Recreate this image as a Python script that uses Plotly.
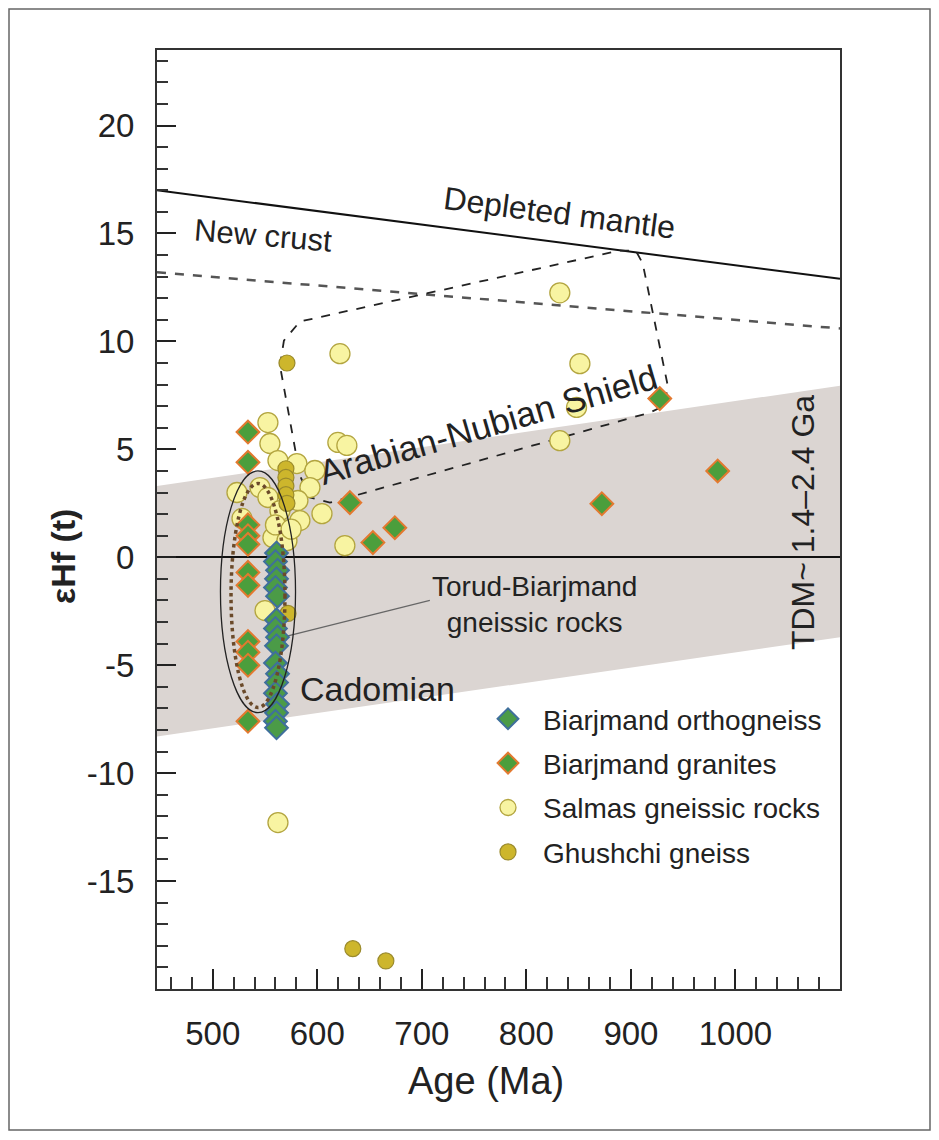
import plotly.graph_objects as go

# ---------------- data ----------------
age_range = [446.7, 1100.0]
ehf_range = [-20.0, 23.5]
x_tickvals = [500, 600, 700, 800, 900, 1000]
y_tickvals = [-15, -10, -5, 0, 5, 10, 15, 20]
y_ticktext = ["-15", "-10", "-5", "0", "5", "10", "15", "20"]

ortho_age = [561, 560, 562, 561, 560, 562, 561, 560, 562, 561, 560, 562, 561, 560, 562, 561, 560, 561]
ortho_ehf = [0.2, -0.2, -0.6, -1.0, -1.4, -1.8, -2.9, -3.3, -3.7, -4.1, -4.9, -5.4, -5.8, -6.3, -6.8, -7.2, -7.6, -7.9]

gran_age = [533.7, 533.7, 533.7, 533.7, 533.7, 533.7, 533.7, 533.7, 533.7, 533.7, 533.7,
            631.2, 653.2, 674.2, 872.2, 927.6, 983.0]
gran_ehf = [5.8, 4.4, 1.5, 1.0, 0.6, -0.7, -1.3, -3.9, -4.4, -5.0, -7.6,
            2.53, 0.68, 1.37, 2.48, 7.35, 4.0]

salmas_age = [552.8, 554.7, 562.4, 580.5, 597.7, 619.7, 628.3, 621.7, 523.2, 545.2, 552.8,
              593.0, 604.5, 564.3, 581.5, 583.4, 557.6, 571.0, 626.4, 528.0, 550.0, 560.0,
              575.0, 832.0, 851.2, 848.0, 832.0, 562.4]
salmas_ehf = [6.24, 5.27, 4.48, 4.34, 4.02, 5.32, 5.18, 9.43, 3.0, 3.23, 2.77,
              3.23, 2.02, 2.16, 2.63, 1.7, 0.91, 0.77, 0.54, 1.8, -2.47, 1.5,
              1.3, 12.25, 8.97, 6.94, 5.4, -12.29]

ghush_age = [571, 570, 570, 570, 570, 571, 572, 634, 665.6]
ghush_ehf = [9.0, 4.1, 3.7, 3.3, 2.9, 2.5, -2.6, -18.13, -18.7]

dm_age = [446.7, 1100.0]
dm_ehf = [17.0, 12.9]
nc_age = [446.7, 1100.0]
nc_ehf = [13.2, 10.6]

band_age = [446.7, 1100.0, 1100.0, 446.7]
band_ehf = [3.3, 7.95, -3.7, -8.3]

ans_age = [564.3, 568.1, 583.4, 889.3, 904.6, 911.3, 935.2, 932.4, 918.0, 612.1, 593.0, 583.4, 564.3]
ans_ehf = [8.88, 10.04, 10.92, 14.21, 14.21, 13.61, 7.96, 7.03, 6.70, 2.53, 2.77, 3.79, 8.88]

cad_outer = [507.4, 579.2, -7.2, 4.0]
cad_inner = [517.5, 569.1, -6.96, 3.42]
leader_age = [707.7, 567.2]
leader_ehf = [-2.0, -3.7]

FONT = "Liberation Sans"

fig = go.Figure()

# model lines
fig.add_trace(go.Scatter(x=dm_age, y=dm_ehf, mode="lines", line=dict(color="#111", width=2),
                         showlegend=False, hoverinfo="skip"))
fig.add_trace(go.Scatter(x=nc_age, y=nc_ehf, mode="lines", line=dict(color="#555", width=2.5, dash="dash"),
                         showlegend=False, hoverinfo="skip"))
fig.add_trace(go.Scatter(x=ans_age, y=ans_ehf, mode="lines", line=dict(color="#222", width=1.8, dash="dash"),
                         showlegend=False, hoverinfo="skip"))
fig.add_trace(go.Scatter(x=leader_age, y=leader_ehf, mode="lines", line=dict(color="#666", width=1.2),
                         showlegend=False, hoverinfo="skip"))

# data
fig.add_trace(go.Scatter(x=salmas_age, y=salmas_ehf, mode="markers", name="Salmas gneissic rocks",
                         legendrank=3, legendgroup="c",
                         marker=dict(symbol="circle", size=20, color="#f8f4a2",
                                     line=dict(color="#b3a540", width=1.3))))
fig.add_trace(go.Scatter(x=ghush_age, y=ghush_ehf, mode="markers", name="Ghushchi gneiss",
                         legendrank=4, legendgroup="d",
                         marker=dict(symbol="circle", size=16, color="#cdb62c",
                                     line=dict(color="#9a8a2c", width=1.2))))
fig.add_trace(go.Scatter(x=gran_age, y=gran_ehf, mode="markers", name="Biarjmand granites",
                         legendrank=2, legendgroup="b",
                         marker=dict(symbol="diamond", size=17.5, color="#4b9e3c",
                                     line=dict(color="#e3792f", width=2))))
fig.add_trace(go.Scatter(x=ortho_age, y=ortho_ehf, mode="markers", name="Biarjmand orthogneiss",
                         legendrank=1, legendgroup="a",
                         marker=dict(symbol="diamond", size=17.5, color="#4b9b47",
                                     line=dict(color="#3f6f9c", width=2))))

# band shape
band_path = "M " + " L ".join(f"{a},{e}" for a, e in zip(band_age, band_ehf)) + " Z"
shapes = [
    dict(type="path", path=band_path, xref="x", yref="y", fillcolor="#dbd5d2",
         line=dict(width=0), layer="below"),
    dict(type="circle", xref="x", yref="y", x0=cad_outer[0], x1=cad_outer[1],
         y0=cad_outer[2], y1=cad_outer[3], line=dict(color="#222", width=1.3), layer="above"),
    dict(type="circle", xref="x", yref="y", x0=cad_inner[0], x1=cad_inner[1],
         y0=cad_inner[2], y1=cad_inner[3], line=dict(color="#6b4a2a", width=3.5, dash="dot"),
         layer="above"),
    # outer frame of figure
    dict(type="rect", xref="paper", yref="paper", x0=(1 - 149) / 683, x1=(922 - 149) / 683,
         y0=(981 - 1122) / 939, y1=(981 - 1) / 939, line=dict(color="#666", width=1.5)),
]

annotations = [
    dict(x=832, y=15.97, text="Depleted mantle", textangle=7.4, showarrow=False,
         font=dict(size=32, color="#222", family=FONT)),
    dict(x=548, y=14.9, text="New crust", textangle=4.7, showarrow=False,
         font=dict(size=31, color="#222", family=FONT)),
    dict(x=763, y=6.15, text="Arabian-Nubian Shield", textangle=-16.2, showarrow=False,
         font=dict(size=35, color="#222", family=FONT)),
    dict(x=1064, y=1.6, text="TDM~ 1.4–2.4 Ga", textangle=-90, showarrow=False,
         font=dict(size=32, color="#222", family=FONT)),
    dict(x=808, y=-2.19, text="Torud-Biarjmand<br>gneissic rocks", showarrow=False, align="center",
         font=dict(size=28, color="#222", family=FONT)),
    dict(x=658, y=-6.09, text="Cadomian", showarrow=False,
         font=dict(size=34, color="#222", family=FONT)),
    # axis titles
    dict(x=(486 - 157) / 683, y=(981 - 1073) / 939, xref="paper", yref="paper",
         text="Age (Ma)", showarrow=False, xanchor="center", yanchor="middle",
         font=dict(size=38, color="#222", family=FONT)),
    dict(x=(63 - 157) / 683, y=(981 - 549) / 939, xref="paper", yref="paper",
         text="<b>εHf (t)</b>", textangle=-90, showarrow=False, xanchor="center", yanchor="middle",
         font=dict(size=34, color="#222", family=FONT)),
]

fig.update_layout(
    width=931, height=1132,
    margin=dict(l=149, r=99, t=42, b=151),
    paper_bgcolor="white", plot_bgcolor="white",
    font=dict(family=FONT, color="#222"),
    shapes=shapes, annotations=annotations,
    showlegend=True,
    legend=dict(x=(465 - 149) / 683, y=(981 - 686) / 939, xanchor="left", yanchor="top",
                font=dict(size=28, family=FONT, color="#222"), itemwidth=60,
                bgcolor="rgba(0,0,0,0)", tracegroupgap=5, traceorder="grouped"),
)

fig.update_xaxes(
    range=age_range, tickvals=x_tickvals, ticks="inside", ticklen=20, tickwidth=1.5,
    tickcolor="#222", showline=True, linecolor="#333", linewidth=2, mirror=True,
    showgrid=False, zeroline=False, ticklabelstandoff=14,
    tickfont=dict(size=33, family=FONT, color="#222"),
    minor=dict(dtick=20, tick0=0, ticks="inside", ticklen=12, tickwidth=1.5, tickcolor="#333", showgrid=False),
)
fig.update_yaxes(
    range=ehf_range, tickvals=y_tickvals, ticktext=y_ticktext, ticks="inside", ticklen=19, tickwidth=1.5,
    tickcolor="#222", showline=True, linecolor="#333", linewidth=2, mirror=True,
    showgrid=False, zeroline=True, zerolinecolor="#111", zerolinewidth=2,
    ticklabelstandoff=14,
    tickfont=dict(size=33, family=FONT, color="#222"),
    minor=dict(dtick=1, tick0=0, ticks="inside", ticklen=11, tickwidth=1.5, tickcolor="#333", showgrid=False),
)

fig.write_html("out.html")
